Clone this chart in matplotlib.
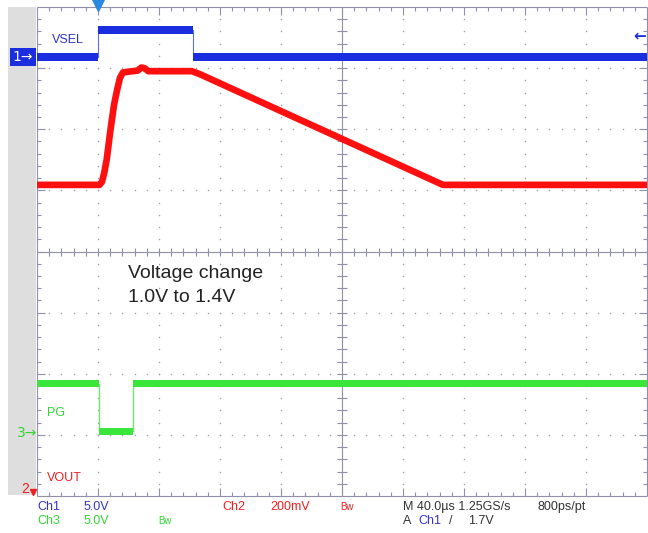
import numpy as np
import matplotlib
matplotlib.use("Agg")
import matplotlib.pyplot as plt
from matplotlib.collections import LineCollection
from matplotlib.patches import Rectangle

plt.rcParams['font.family'] = ['Liberation Sans', 'DejaVu Sans']

# time base: 40 us/div, trigger 1 div from the left
t_div = 40.0
t_start = -40.0

# Ch1 VSEL (screen divisions), step trace
vsel_t = [-40, 0, 62, 360]
vsel_y = [7.18, 7.63, 7.18, 7.18]

# Ch3 PG (screen divisions), step trace
pg_t = [-40, 0.7, 23, 360]
pg_y = [1.84, 1.06, 1.84, 1.84]

# Ch2 VOUT (screen divisions)
vout_t = [-40, 1.0, 2.6, 4.2, 5.8, 7.9, 10.5, 12.5, 14.4, 16.4, 26.0, 28.5, 30.5, 33.0, 61.6, 66.9, 226.2, 360]
vout_y = [5.09, 5.09, 5.14, 5.30, 5.52, 5.94, 6.40, 6.64, 6.84, 6.93, 6.96, 7.01, 7.00, 6.95, 6.95, 6.90, 5.09, 5.09]

blue = '#1a2ee0'
red = '#ff1010'
green = '#3be63b'
grat = '#9090aa'
W, H = 648, 533


def fx(x):
    return x / W


def fy(y):
    return 1 - y / H


fig = plt.figure(figsize=(W / 100, H / 100), dpi=100)
fig.patches.append(Rectangle((fx(8), fy(495)), 28 / W, 488 / H, transform=fig.transFigure,
                             facecolor='#dedede', edgecolor='none', zorder=0))
fig.patches.append(Rectangle((fx(10), fy(66)), 26 / W, 18 / H, transform=fig.transFigure,
                             facecolor='#1a2ee0', edgecolor='none', zorder=1))

ax = fig.add_axes([fx(37), fy(496), 610 / W, 489 / H])
ax.set_xlim(t_start, t_start + 10 * t_div)
ax.set_ylim(0, 8)
ax.axis('off')

px_x = t_div / 61.0
px_y = 8 / 489.0


def tx(d):
    return t_start + t_div * np.asarray(d)


# graticule dots
mx = np.arange(0, 10.001, 0.2)
my = np.arange(0, 8.001, 0.2)
pts = []
for i in range(1, 10):
    if i != 5:
        pts += [(i, y) for y in my[1:-1]]
for j in range(1, 8):
    if j != 4:
        pts += [(x, j) for x in mx[1:-1]]
pts = np.array(pts)
ax.scatter(tx(pts[:, 0]), pts[:, 1], s=1.2, color='#a0a0ae', linewidths=0, zorder=1)

# frame and centre cross
segs = [[(t_start, 0), (t_start + 10 * t_div, 0)], [(t_start, 8), (t_start + 10 * t_div, 8)],
        [(t_start, 0), (t_start, 8)], [(t_start + 10 * t_div, 0), (t_start + 10 * t_div, 8)],
        [(tx(0), 4), (tx(10), 4)], [(tx(5), 0), (tx(5), 8)]]
for x in mx[1:-1]:
    L = 8 if abs(x - round(x)) < 1e-6 else 4
    segs.append([(tx(x), 0), (tx(x), L * px_y)])
    segs.append([(tx(x), 8), (tx(x), 8 - L * px_y)])
    segs.append([(tx(x), 4 - 4 * px_y), (tx(x), 4 + 4 * px_y)])
for y in my[1:-1]:
    L = 8 if abs(y - round(y)) < 1e-6 else 4
    segs.append([(tx(0), y), (tx(0) + L * px_x, y)])
    segs.append([(tx(10), y), (tx(10) - L * px_x, y)])
    segs.append([(tx(5) - 5 * px_x, y), (tx(5) + 5 * px_x, y)])
ax.add_collection(LineCollection(segs, colors=grat, linewidths=0.8, zorder=2, clip_on=False))

# traces
h = 4 * px_y
ax.fill_between(vsel_t, np.array(vsel_y) - h, np.array(vsel_y) + h, step='post',
                color=blue, linewidth=0, zorder=4)
ax.plot(vsel_t, vsel_y, drawstyle='steps-post', color='#5a70f0', lw=0.8, zorder=3)
h = 3.5 * px_y
ax.fill_between(pg_t, np.array(pg_y) - h, np.array(pg_y) + h, step='post',
                color=green, linewidth=0, zorder=4)
ax.plot(pg_t, pg_y, drawstyle='steps-post', color='#70e870', lw=1.0, zorder=3)
ax.plot(vout_t, vout_y, color=red, lw=4.8, solid_joinstyle='round', zorder=4)

# trace labels
ax_txt = dict(transform=fig.transFigure, va='center', ha='left', fontsize=9)
fig.text(fx(52), fy(40), 'VSEL', color='#2a36d0', **ax_txt)
fig.text(fx(47), fy(413), 'PG', color='#33d633', **ax_txt)
fig.text(fx(47), fy(478), 'VOUT', color='#ee2020', **ax_txt)
fig.text(fx(128), fy(273), 'Voltage change', color='#222222', transform=fig.transFigure,
         va='center', ha='left', fontsize=14)
fig.text(fx(128), fy(297), '1.0V to 1.4V', color='#222222', transform=fig.transFigure,
         va='center', ha='left', fontsize=14)

# channel markers
fig.text(fx(23), fy(57), '1→', color='white', fontsize=10, va='center', ha='center',
         family=['DejaVu Sans'])
fig.text(fx(27), fy(433), '3→', color='#33d633', fontsize=10, va='center', ha='center',
         family=['DejaVu Sans'])
fig.text(fx(25), fy(489), '2', color='#ee2020', fontsize=10, va='center', ha='center')
fig.lines.append(plt.Line2D([fx(33)], [fy(492)], marker='v', markersize=4, color='#ee2020',
                            transform=fig.transFigure))
fig.lines.append(plt.Line2D([fx(98)], [fy(5)], marker='v', markersize=8, color='#2a8ae0',
                            transform=fig.transFigure))
fig.text(fx(640), fy(36), '←', color=blue, fontsize=11, va='center', ha='center',
         family=['DejaVu Sans'], fontweight='bold')

# readout
row1, row2 = fy(507), fy(521)
rd = dict(transform=fig.transFigure, va='center', ha='left', fontsize=9)
fig.text(fx(37), row1, 'Ch1', color='#3535c8', **rd)
fig.text(fx(84), row1, '5.0V', color='#3535c8', **rd)
fig.text(fx(37), row2, 'Ch3', color='#33d633', **rd)
fig.text(fx(84), row2, '5.0V', color='#33d633', **rd)
fig.text(fx(158), row2, 'Bw', color='#33d633', transform=fig.transFigure, va='center',
         ha='left', fontsize=7)
fig.text(fx(222), row1, 'Ch2', color='#ee2020', **rd)
fig.text(fx(270), row1, '200mV', color='#ee2020', **rd)
fig.text(fx(340), row1, 'Bw', color='#ee2020', transform=fig.transFigure, va='center',
         ha='left', fontsize=7)
fig.text(fx(403), row1, 'M 40.0µs 1.25GS/s', color='#333333', **rd)
fig.text(fx(537), row1, '800ps/pt', color='#333333', **rd)
fig.text(fx(403), row2, 'A', color='#333333', **rd)
fig.text(fx(418), row2, 'Ch1', color='#3535c8', **rd)
fig.text(fx(449), row2, '/', color='#333333', **rd)
fig.text(fx(468), row2, '1.7V', color='#333333', **rd)

fig.savefig('out.png', dpi=100)
